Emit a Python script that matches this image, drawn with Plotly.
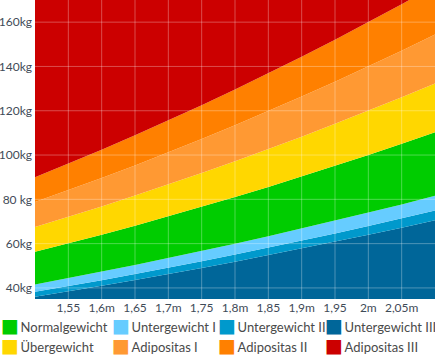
import plotly.graph_objects as go

# Heights (m) and weight boundaries (kg)
heights = [1.50, 1.55, 1.60, 1.65, 1.70, 1.75, 1.80, 1.85, 1.90, 1.95, 2.00, 2.05, 2.10]
w_unter3_top = [36.0, 38.4, 41.0, 43.6, 46.2, 49.0, 51.8, 54.8, 57.8, 60.8, 64.0, 67.2, 70.6]
w_unter2_top = [38.3, 40.8, 43.5, 46.3, 49.1, 52.1, 55.1, 58.2, 61.4, 64.6, 68.0, 71.4, 75.0]
w_unter1_top = [41.6, 44.4, 47.4, 50.4, 53.5, 56.7, 59.9, 63.3, 66.8, 70.3, 74.0, 77.7, 81.6]
w_normal_top = [56.3, 60.1, 64.0, 68.1, 72.3, 76.6, 81.0, 85.6, 90.3, 95.1, 100.0, 105.1, 110.3]
w_ueber_top = [67.5, 72.1, 76.8, 81.7, 86.7, 91.9, 97.2, 102.7, 108.3, 114.1, 120.0, 126.1, 132.3]
w_adi1_top = [78.8, 84.1, 89.6, 95.3, 101.2, 107.2, 113.4, 119.8, 126.4, 133.1, 140.0, 147.1, 154.4]
w_adi2_top = [90.0, 96.1, 102.4, 108.9, 115.6, 122.5, 129.6, 136.9, 144.4, 152.1, 160.0, 168.1, 176.4]
w_adi3_top = [200.0] * 13

x_tickvals = [1.55, 1.60, 1.65, 1.70, 1.75, 1.80, 1.85, 1.90, 1.95, 2.00, 2.05]
x_ticktext = ["1,55", "1,6m", "1,65", "1,7m", "1,75", "1,8m", "1,85", "1,9m", "1,95", "2m", "2,05m"]
y_tickvals = [40, 60, 80, 100, 120, 140, 160]
y_ticktext = ["40kg", "60kg", "80 kg", "100kg", "120kg", "140kg", "160kg"]

x_range = [1.5, 2.1]
y_range = [35, 170]

bands = [
    ("Untergewicht III", w_unter3_top, "#006699"),
    ("Untergewicht II", w_unter2_top, "#0099CC"),
    ("Untergewicht I", w_unter1_top, "#66CCFF"),
    ("Normalgewicht", w_normal_top, "#00CC00"),
    ("Übergewicht", w_ueber_top, "#FFD700"),
    ("Adipositas I", w_adi1_top, "#FF9933"),
    ("Adipositas II", w_adi2_top, "#FF8000"),
    ("Adipositas III", w_adi3_top, "#CC0000"),
]
colors = {name: c for name, _, c in bands}
legend_columns = [
    ["Normalgewicht", "Übergewicht"],
    ["Untergewicht I", "Adipositas I"],
    ["Untergewicht II", "Adipositas II"],
    ["Untergewicht III", "Adipositas III"],
]

fig = go.Figure()
for i, (name, ys, col) in enumerate(bands):
    fig.add_trace(go.Scatter(
        x=heights, y=ys, mode="lines", line=dict(width=0, color=col),
        fill="tozeroy" if i == 0 else "tonexty", fillcolor=col,
        showlegend=False, hoverinfo="skip", name=name))

legend_ids = ["legend", "legend2", "legend3", "legend4"]
for lid, column in zip(legend_ids, legend_columns):
    for name in column:
        label = ("<span style='color:%s;font-size:19px;font-family:DejaVu Sans'>■</span>\u2009%s"
                 % (colors[name], name))
        fig.add_trace(go.Scatter(
            x=[None], y=[None], mode="markers", name=label, legend=lid,
            marker=dict(symbol="square", size=1, color="rgba(0,0,0,0)"),
            showlegend=True))

# grid lines drawn above the filled areas
for xv in x_tickvals:
    fig.add_shape(type="line", xref="x", yref="paper", x0=xv, x1=xv, y0=0, y1=1,
                  line=dict(color="rgba(255,255,255,0.3)", width=1), layer="above")
for yv in y_tickvals:
    fig.add_shape(type="line", xref="paper", yref="y", x0=0, x1=1, y0=yv, y1=yv,
                  line=dict(color="rgba(255,255,255,0.3)", width=1), layer="above")

font_family = "Lato, Open Sans, sans-serif"
legend_x = [-0.185, 0.0925, 0.3575, 0.625]
legend_common = dict(orientation="v", xanchor="left", y=-0.045, yanchor="top",
                     traceorder="normal", font=dict(size=13, color="#4a4a4a"),
                     itemwidth=30, tracegroupgap=0, bgcolor="rgba(0,0,0,0)")

fig.update_layout(
    width=435, height=360,
    margin=dict(l=35, r=0, t=0, b=61, autoexpand=False),
    paper_bgcolor="white", plot_bgcolor="white",
    font=dict(family=font_family, size=12, color="#3f4b58"),
    xaxis=dict(range=x_range, tickvals=x_tickvals, ticktext=x_ticktext,
               showgrid=False, zeroline=False, showline=False, ticks="",
               tickfont=dict(size=12, color="#3f4b58")),
    yaxis=dict(range=y_range, tickvals=y_tickvals, ticktext=y_ticktext,
               showgrid=False, zeroline=False, showline=False, ticks="",
               ticklabelstandoff=2,
               tickfont=dict(size=12, color="#3f4b58")),
    legend=dict(x=legend_x[0], **legend_common),
    legend2=dict(x=legend_x[1], **legend_common),
    legend3=dict(x=legend_x[2], **legend_common),
    legend4=dict(x=legend_x[3], **legend_common),
)

fig.write_html("out.html", config={"displayModeBar": False},
               post_script="document.body.style.margin='0';document.body.style.overflow='hidden';")
